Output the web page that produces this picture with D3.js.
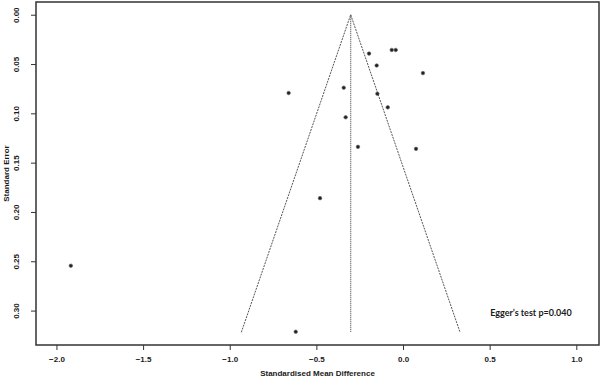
<!DOCTYPE html>
<html>
<head>
<meta charset="utf-8">
<script src="https://cdn.jsdelivr.net/npm/d3@7"></script>
<style>
  body { margin: 0; background: #fff; }
  text { font-family: "Liberation Sans", Arial, sans-serif; fill: #1a1a1a; }
</style>
</head>
<body>
<svg id="chart" width="602" height="380"></svg>
<script>
// study effects (SMD) and their standard errors
const smd = [-0.660, -0.342, -0.331, -0.260, -0.196, -0.152, -0.148, -0.088, -0.065, -0.042, 0.075, 0.115, -0.479, -0.619, -1.917];
const se  = [0.0794, 0.0740, 0.104, 0.134, 0.0394, 0.0515, 0.0801, 0.0939, 0.0357, 0.0357, 0.136, 0.0592, 0.186, 0.3215, 0.2545];
const pooled = -0.302;
const seMax = 0.322;
const xTicks = [-2.0, -1.5, -1.0, -0.5, 0.0, 0.5, 1.0];
const yTicks = [0.00, 0.05, 0.10, 0.15, 0.20, 0.25, 0.30];

const svg = d3.select("#chart");
const margin = {left: 36, right: 3, top: 2, bottom: 35};
const width = 602, height = 380;

const x = d3.scaleLinear().domain([-2.118, 1.131]).range([margin.left, width - margin.right]);
const y = d3.scaleLinear().domain([-0.0129, 0.3349]).range([margin.top, height - margin.bottom]);

// funnel
const funnel = [[pooled - 1.96 * seMax, seMax], [pooled, 0], [pooled + 1.96 * seMax, seMax]];
svg.append("path")
  .attr("d", d3.line().x(d => x(d[0])).y(d => y(d[1]))(funnel))
  .attr("fill", "none")
  .attr("stroke", "#555")
  .attr("stroke-width", 1)
  .attr("stroke-dasharray", "2,1");

svg.append("line")
  .attr("x1", x(pooled)).attr("x2", x(pooled))
  .attr("y1", y(0)).attr("y2", y(seMax))
  .attr("stroke", "#555")
  .attr("stroke-width", 1.2)
  .attr("stroke-dasharray", "1,1");

// points
svg.selectAll(".pt")
  .data(smd.map((d, i) => ({x: d, y: se[i]})))
  .join("circle")
  .attr("class", "pt")
  .attr("cx", d => x(d.x))
  .attr("cy", d => y(d.y))
  .attr("r", 1.8)
  .attr("fill", "#222")
  .attr("stroke", "#666")
  .attr("stroke-width", 0.6);

// frame
svg.append("rect")
  .attr("x", margin.left).attr("y", margin.top)
  .attr("width", width - margin.left - margin.right)
  .attr("height", height - margin.top - margin.bottom)
  .attr("fill", "none")
  .attr("stroke", "#333")
  .attr("stroke-width", 1.5);

// x axis
const xAxis = svg.append("g")
  .attr("transform", `translate(0,${height - margin.bottom})`)
  .call(d3.axisBottom(x).tickValues(xTicks).tickFormat(d3.format(".1f")).tickSize(5).tickSizeOuter(0));
xAxis.select(".domain").remove();
xAxis.selectAll("line").attr("stroke", "#333");
xAxis.selectAll("text")
  .attr("dy", "1.15em")
  .style("font-size", "8px")
  .style("font-weight", "bold")
  .style("font-family", "Liberation Sans");

// y axis
const yAxis = svg.append("g")
  .attr("transform", `translate(${margin.left},0)`)
  .call(d3.axisLeft(y).tickValues(yTicks).tickFormat(d3.format(".2f")).tickSize(5).tickSizeOuter(0));
yAxis.select(".domain").remove();
yAxis.selectAll("line").attr("stroke", "#333");
yAxis.selectAll("text")
  .attr("x", null).attr("dy", null)
  .attr("text-anchor", "middle")
  .attr("transform", "translate(-17,0) rotate(-90)")
  .style("font-size", "8px")
  .style("font-weight", "bold")
  .style("font-family", "Liberation Sans");

// axis titles
svg.append("text")
  .attr("x", (margin.left + width - margin.right) / 2)
  .attr("y", 376)
  .attr("text-anchor", "middle")
  .style("font-size", "8px")
  .style("font-weight", "bold")
  .text("Standardised Mean Difference");

svg.append("text")
  .attr("transform", `translate(9,${(margin.top + height - margin.bottom) / 2}) rotate(-90)`)
  .attr("text-anchor", "middle")
  .style("font-size", "8px")
  .style("font-weight", "bold")
  .text("Standard Error");

// Egger annotation
svg.append("text")
  .attr("x", 531)
  .attr("y", 316)
  .attr("text-anchor", "middle")
  .style("font-family", "Lato, 'Open Sans', sans-serif")
  .style("font-weight", "bold")
  .style("font-size", "9px")
  .text("Egger\u2019s test p=0.040");
</script>
</body>
</html>
